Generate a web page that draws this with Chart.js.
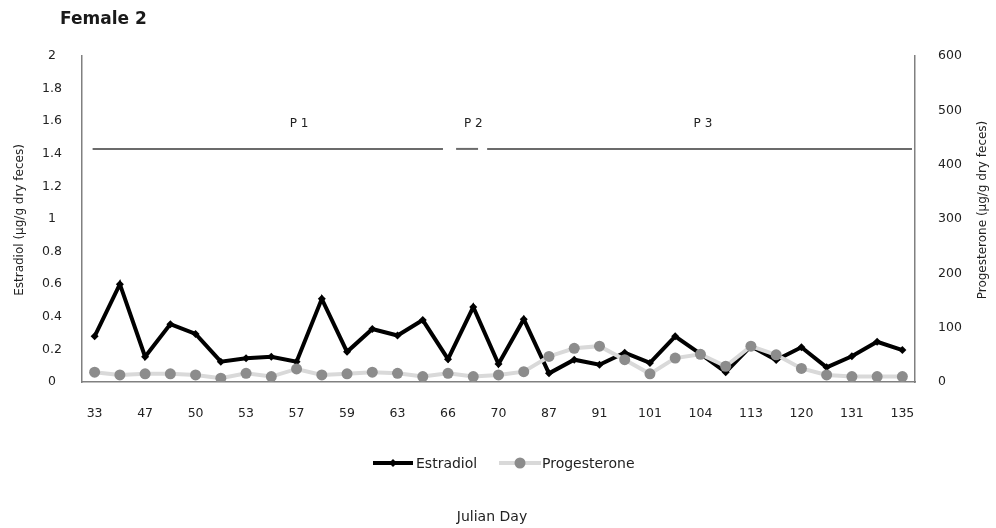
<!DOCTYPE html>
<html>
<head>
<meta charset="utf-8">
<script src="https://cdn.jsdelivr.net/npm/chart.js@4/dist/chart.umd.min.js"></script>
<style>
  html, body { margin: 0; padding: 0; background: #fff; }
  #wrap { width: 996px; height: 528px; position: relative; }
</style>
</head>
<body>
<div id="wrap"><canvas id="c" width="996" height="528"></canvas></div>
<script>
// Sampling days (Julian day); only every second sample carries a printed label
const dayLabels = ['33','','47','','50','','53','','57','','59','','63','','66','','70','',
                   '87','','91','','101','','104','','113','','120','','131','','135'];

// Faecal estradiol, µg/g dry feces (left axis)
const estradiol = [0.28,0.60,0.155,0.355,0.295,0.125,0.145,0.155,0.125,0.51,0.185,
                   0.325,0.285,0.38,0.14,0.46,0.11,0.385,0.053,0.137,0.106,0.18,
                   0.117,0.28,0.172,0.06,0.22,0.135,0.213,0.09,0.158,0.247,0.196];

// Faecal progesterone, µg/g dry feces (right axis)
const progesterone = [18,13,15,15,13,7,16,10,24,13,15,18,16,10,16,10,13,19,
                      47,62,66,41,15,44,51,29,66,50,25,13,10,10,10];

// Reproductive phases, as spans over sample index
const phaseNames = ['P 1', 'P 2', 'P 3'];
const phaseStart = [-0.08, 14.32, 15.55];
const phaseEnd   = [13.8, 15.19, 32.38];
const phaseLabelAt = [8.1, 15.0, 24.1];
const phaseLevel = 1.43;   // height on the estradiol axis

const FONT = "'DejaVu Sans', Verdana, sans-serif";
const TEXT = '#222';

const overlay = {
  id: 'overlay',
  afterDraw(chart) {
    const ctx = chart.ctx;
    const x = chart.scales.x, yL = chart.scales.yL;
    ctx.save();

    // Title
    ctx.fillStyle = '#1a1a1a';
    ctx.font = 'bold 17px ' + FONT;
    ctx.textAlign = 'left';
    ctx.textBaseline = 'middle';
    ctx.fillText('Female 2', 60, 20);

    // Phase bars
    const py = yL.getPixelForValue(phaseLevel);
    ctx.strokeStyle = '#6b6b6b';
    ctx.lineWidth = 2;
    for (let i = 0; i < phaseNames.length; i++) {
      ctx.beginPath();
      ctx.moveTo(x.getPixelForValue(phaseStart[i]), py);
      ctx.lineTo(x.getPixelForValue(phaseEnd[i]), py);
      ctx.stroke();
      ctx.fillStyle = TEXT;
      ctx.font = '12px ' + FONT;
      ctx.textAlign = 'center';
      ctx.fillText(phaseNames[i], x.getPixelForValue(phaseLabelAt[i]), py - 25);
    }

    // Axis titles
    ctx.fillStyle = TEXT;
    ctx.font = '12px ' + FONT;
    ctx.textAlign = 'center';
    ctx.textBaseline = 'middle';
    ctx.save();
    ctx.translate(20, 220);
    ctx.rotate(-Math.PI / 2);
    ctx.fillText('Estradiol (µg/g dry feces)', 0, 0);
    ctx.restore();
    ctx.save();
    ctx.translate(983, 210);
    ctx.rotate(-Math.PI / 2);
    ctx.fillText('Progesterone (µg/g dry feces)', 0, 0);
    ctx.restore();

    ctx.font = '14px ' + FONT;
    ctx.fillText('Julian Day', 492, 517);

    // Legend
    const ly = 463;
    const ds = chart.data.datasets;
    const items = [
      { d: ds[0], x0: 373, x1: 413, tx: 416 },
      { d: ds[1], x0: 499, x1: 541, tx: 542 }
    ];
    items.forEach(it => {
      ctx.strokeStyle = it.d.borderColor;
      ctx.lineWidth = it.d.borderWidth;
      ctx.beginPath();
      ctx.moveTo(it.x0, ly);
      ctx.lineTo(it.x1, ly);
      ctx.stroke();
      const cx = (it.x0 + it.x1) / 2;
      ctx.fillStyle = it.d.pointBackgroundColor;
      ctx.beginPath();
      if (it.d.pointStyle === 'rectRot') {
        const r = it.d.pointRadius;
        ctx.moveTo(cx, ly - r); ctx.lineTo(cx + r, ly);
        ctx.lineTo(cx, ly + r); ctx.lineTo(cx - r, ly);
        ctx.closePath();
      } else {
        ctx.arc(cx, ly, it.d.pointRadius, 0, Math.PI * 2);
      }
      ctx.fill();
      ctx.fillStyle = TEXT;
      ctx.font = '14px ' + FONT;
      ctx.textAlign = 'left';
      ctx.fillText(it.d.label, it.tx, ly + 1);
    });

    ctx.restore();
  }
};

new Chart(document.getElementById('c'), {
  type: 'line',
  data: {
    labels: dayLabels,
    datasets: [
      {
        label: 'Estradiol',
        data: estradiol,
        yAxisID: 'yL',
        borderColor: '#000',
        borderWidth: 4,
        pointStyle: 'rectRot',
        pointRadius: 4,
        pointBackgroundColor: '#000',
        pointBorderWidth: 0,
        tension: 0,
        order: 2
      },
      {
        label: 'Progesterone',
        data: progesterone,
        yAxisID: 'yR',
        borderColor: '#d9d9d9',
        borderWidth: 4,
        pointStyle: 'circle',
        pointRadius: 5.5,
        pointBackgroundColor: '#8c8c8c',
        pointBorderWidth: 0,
        tension: 0,
        order: 1
      }
    ]
  },
  options: {
    responsive: false,
    animation: false,
    layout: { padding: { top: 56, left: 0, right: 0, bottom: 0 } },
    plugins: {
      legend: { display: false },
      tooltip: { enabled: false },
      title: { display: false }
    },
    scales: {
      x: {
        type: 'category',
        offset: true,
        grid: { display: false, drawTicks: false },
        border: { display: true, color: '#808080', width: 1.5 },
        ticks: {
          autoSkip: false, maxRotation: 0, padding: 24,
          color: TEXT, font: { family: FONT, size: 12.5 }
        },
        afterFit(s) { s.height = 146; }
      },
      yL: {
        position: 'left',
        min: 0, max: 2,
        grid: { display: false, drawTicks: false },
        border: { display: true, color: '#808080', width: 1.5 },
        ticks: {
          stepSize: 0.2, padding: 20, crossAlign: 'center',
          color: TEXT, font: { family: FONT, size: 12.5 },
          callback: v => String(+v.toFixed(1))
        },
        afterFit(s) { s.width = 82; }
      },
      yR: {
        position: 'right',
        min: 0, max: 600,
        grid: { display: false, drawTicks: false },
        border: { display: true, color: '#808080', width: 1.5 },
        ticks: {
          stepSize: 100, padding: 23,
          color: TEXT, font: { family: FONT, size: 12.5 }
        },
        afterFit(s) { s.width = 81; }
      }
    }
  },
  plugins: [overlay]
});
</script>
</body>
</html>
